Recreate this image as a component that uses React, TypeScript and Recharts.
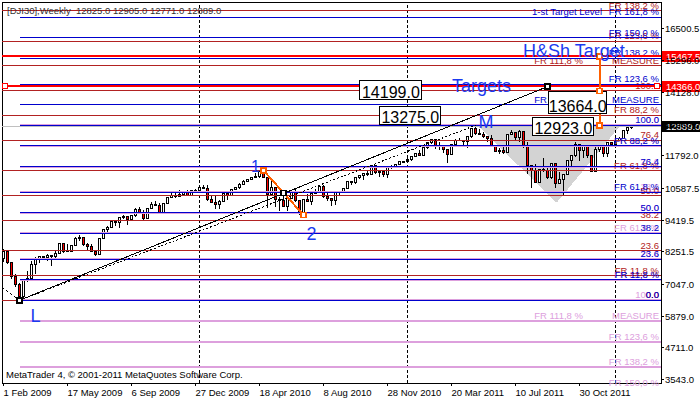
import React from 'react';
import {
  ComposedChart,
  XAxis,
  YAxis,
  Bar,
  Area,
  ReferenceLine,
  ReferenceDot,
  ReferenceArea,
} from 'recharts';

const FONT = '"Liberation Sans", Arial, sans-serif';
const SMALL = 9.5;
const ORANGE = '#FF6000';
const FIB_BLUE = '#0000CD';
const FIB_RED = '#B22222';
const FIB_PLUM = '#DDA0DD';
const TEXT_BLUE = '#1A3AF0';

// Weekly DJI30 bars [open, high, low, close]; bar 0 = week of 1 Feb 2009
const weeklyOHLC: number[][] = [
  [8000, 8350, 7890, 8280], [8280, 8300, 7800, 7850], [7850, 7880, 7250, 7366], [7366, 7450, 6950, 7063],
  [7063, 7100, 6470, 6627], [6627, 7250, 6547, 7224], [7224, 7540, 7150, 7279], [7279, 7930, 7270, 7776],
  [7776, 8080, 7450, 8018], [8018, 8100, 7840, 8083], [8083, 8120, 8030, 8060], [8060, 8170, 7920, 8131],
  [8131, 8140, 7750, 8076], [8076, 8270, 7950, 8212], [8212, 8600, 8200, 8575], [8575, 8590, 8200, 8268],
  [8268, 8540, 8250, 8277], [8277, 8520, 8250, 8500], [8500, 8800, 8490, 8764], [8764, 8880, 8660, 8799],
  [8799, 8810, 8470, 8540], [8540, 8570, 8300, 8438], [8438, 8560, 8270, 8280], [8280, 8300, 8090, 8147],
  [8147, 8780, 8140, 8743], [8743, 9100, 8740, 9093], [9093, 9200, 9000, 9172], [9172, 9380, 9160, 9370],
  [9370, 9400, 9200, 9321], [9321, 9540, 9120, 9506], [9506, 9630, 9470, 9544], [9544, 9550, 9250, 9441],
  [9441, 9620, 9430, 9605], [9605, 9880, 9560, 9820], [9820, 9920, 9640, 9666], [9666, 9800, 9430, 9488],
  [9488, 9880, 9480, 9865], [9865, 10100, 9850, 9996], [9996, 10120, 9940, 9972], [9972, 10070, 9670, 9713],
  [9713, 10050, 9680, 10023], [10023, 10290, 10010, 10270], [10270, 10430, 10260, 10318], [10318, 10460, 10230, 10310],
  [10310, 10520, 10280, 10389], [10389, 10480, 10340, 10471], [10471, 10520, 10300, 10329], [10329, 10530, 10320, 10520],
  [10520, 10580, 10420, 10428], [10428, 10620, 10420, 10618], [10618, 10730, 10570, 10610], [10610, 10730, 10140, 10172],
  [10172, 10300, 10050, 10067], [10067, 10300, 9840, 10012], [10012, 10170, 9830, 10099], [10099, 10420, 10090, 10402],
  [10402, 10420, 10160, 10325], [10325, 10580, 10320, 10567], [10567, 10630, 10530, 10625], [10625, 10780, 10590, 10742],
  [10742, 10900, 10720, 10850], [10850, 10930, 10840, 10927], [10927, 11000, 10900, 10997], [10997, 11150, 10990, 11019],
  [11019, 11210, 10980, 11204], [11204, 11258, 10990, 11009], [11009, 11020, 9870, 10380], [10380, 10900, 10370, 10620],
  [10620, 10650, 9920, 10193], [10193, 10280, 9770, 10137], [10137, 10330, 9920, 9932], [9932, 10220, 9760, 10212],
  [10212, 10480, 10190, 10450], [10450, 10590, 10100, 10144], [10144, 10150, 9614, 9686], [9686, 10200, 9680, 10198],
  [10198, 10400, 10090, 10097], [10097, 10440, 10000, 10425], [10425, 10570, 10400, 10466], [10466, 10720, 10460, 10653],
  [10653, 10720, 10260, 10303], [10303, 10450, 10150, 10213], [10213, 10240, 9940, 10150], [10150, 10450, 9990, 10448],
  [10448, 10480, 10330, 10462], [10462, 10620, 10450, 10607], [10607, 10870, 10590, 10860], [10860, 10880, 10730, 10829],
  [10829, 11020, 10750, 11006], [11006, 11100, 10960, 11063], [11063, 11170, 10920, 11133], [11133, 11250, 11060, 11118],
  [11118, 11450, 11090, 11445], [11445, 11450, 11140, 11193], [11193, 11250, 11000, 11204], [11204, 11210, 11010, 11092],
  [11092, 11400, 10970, 11382], [11382, 11450, 11330, 11410], [11410, 11500, 11390, 11492], [11492, 11580, 11470, 11573],
  [11573, 11590, 11520, 11578], [11578, 11740, 11570, 11675], [11675, 11790, 11620, 11787], [11787, 11880, 11760, 11871],
  [11871, 12000, 11800, 11824], [11824, 12100, 11820, 12092], [12092, 12280, 12050, 12273], [12273, 12400, 12220, 12391],
  [12391, 12400, 12050, 12130], [12130, 12290, 12010, 12169], [12169, 12200, 11920, 12044], [12044, 12050, 11550, 11858],
  [11858, 12240, 11850, 12221], [12221, 12420, 12190, 12376], [12376, 12450, 12330, 12380], [12380, 12390, 12200, 12342],
  [12342, 12510, 12090, 12505], [12505, 12820, 12460, 12811], [12811, 12923, 12570, 12638], [12638, 12780, 12560, 12596],
  [12596, 12660, 12450, 12512], [12512, 12520, 12300, 12441], [12441, 12570, 12130, 12151], [12151, 12160, 11940, 11952],
  [11952, 12100, 11860, 12004], [12004, 12190, 11870, 11934], [11934, 12600, 11930, 12582], [12582, 12750, 12550, 12657],
  [12657, 12660, 12400, 12479], [12479, 12750, 12300, 12681], [12681, 12690, 12090, 12143], [12143, 12300, 11140, 11445],
  [11445, 11450, 10600, 11269], [11269, 11500, 10800, 10818], [10818, 11300, 10800, 11285], [11285, 11720, 11200, 11240],
  [11240, 11380, 10950, 10992], [10992, 11520, 10930, 11509], [11509, 11550, 10600, 10771], [10771, 11190, 10760, 10913],
  [10913, 11120, 10362, 11103], [11103, 11650, 11100, 11644], [11644, 11810, 11350, 11808], [11808, 12290, 11770, 12231],
  [12231, 12240, 11600, 11983], [11983, 12200, 11720, 12153], [12153, 12160, 11730, 11796], [11796, 11800, 11230, 11231],
  [11231, 12130, 11230, 12019], [12019, 12200, 11950, 12184], [12184, 12190, 11740, 11867], [11867, 12300, 11760, 12294],
  [12294, 12320, 12200, 12218], [12218, 12480, 12210, 12360], [12360, 12490, 12330, 12422], [12422, 12730, 12410, 12720],
  [12720, 12840, 12620, 12825], [12825, 12905, 12771, 12889],
];

const X_MIN = -0.375;
const X_MAX = 164.375;
const Y_MIN = 3420;
const Y_MAX = 17471;

const xTickIdx = [0, 16, 32, 48, 64, 80, 96, 112, 128, 144];
const xTickLabels = [
  '1 Feb 2009', '17 May 2009', '6 Sep 2009', '27 Dec 2009', '18 Apr 2010',
  '8 Aug 2010', '28 Nov 2010', '20 Mar 2011', '10 Jul 2011', '30 Oct 2011',
];
const yTicks = [3543, 4711, 5879, 7047, 8251.5, 9419.5, 10587.5, 11792, 12960, 14128, 15296, 16500.5];
const yearSeparators = [49, 101, 153];

const lowL = 6470;
const neckM = 12923;
const high2007 = 14199;

const fibLevels = [0, 11.8, 23.6, 38.2, 50, 61.8, 76.4, 88.2, 100, 111.8, 123.6, 138.2, 150, 161.8];
const fibTexts = ['0.0', 'FR 11,8 %', '23.6', '38.2', '50.0', 'FR 61,8 %', '76.4', 'FR 88,2 %', '100.0',
  'MEASURE', 'FR 123,6 %', 'FR 138,2 %', 'FR 150,0 %', 'FR 161,8 %'];

const plumFib = { p0: neckM, p100: lowL, startK: 4, maxLevel: 150, color: FIB_PLUM, width: 2, target: '' };
const redFib = { p0: lowL, p100: high2007, startK: X_MIN, maxLevel: 138.2, color: FIB_RED, width: 1, target: '' };
const blueFib = { p0: lowL, p100: neckM, startK: 4, maxLevel: 161.8, color: FIB_BLUE, width: 1, target: '1-st Target Level' };

const targetLevels = [15467.5, 14366];
const bidPrice = 12889;

const trendSolid = [{ k: 4, price: lowL }, { k: 135.95, price: 14348 }];
const trendDotted = [{ k: 4, price: lowL }, { k: 118, price: neckM }];
const trendIn = [{ k: X_MIN, price: 6942 }, { k: 4, price: lowL }];
const swing12 = [{ k: 65, price: 11258 }, { k: 75, price: 9614 }];
const hsMeasure = [{ k: 149, price: 15467.5 }, { k: 149, price: neckM }];

const hsTriangle = [
  { k: 118.6, band: [12900, 12900] },
  { k: 138.3, band: [10070, 12900] },
  { k: 154.1, band: [12900, 12900] },
];

const handles = [
  { k: 4, price: lowL, color: '#000' },
  { k: 135.95, price: 14348, color: '#000' },
  { k: 65, price: 11258, color: ORANGE },
  { k: 70, price: 10436, color: '#000' },
  { k: 75, price: 9614, color: ORANGE },
  { k: 149, price: 15467.5, color: ORANGE },
  { k: 149, price: 14195, color: ORANGE },
  { k: 149, price: neckM, color: ORANGE },
  { k: 0.375, price: 14366, color: '#FF0000' },
  { k: 163.375, price: 14366, color: '#FF0000' },
];

const chartTexts = [
  { text: 'H&Sh Target', k: 129.9, price: 15432, size: 18, anchor: 'start' },
  { text: 'Targets', k: 112.1, price: 14163, size: 18, anchor: 'start' },
  { text: 'M', k: 120.6, price: 12824, size: 18, anchor: 'middle' },
  { text: '1', k: 63, price: 11202, size: 16, anchor: 'middle' },
  { text: '2', k: 77, price: 8694, size: 18, anchor: 'middle' },
  { text: 'L', k: 8, price: 5670, size: 18, anchor: 'middle' },
];

const labelBoxes = [
  { text: '14199.0', k: 96.85, price: 14226, w: 62, h: 19 },
  { text: '13275.0', k: 101.7, price: 13296, w: 61, h: 18 },
  { text: '13664.0', k: 143.55, price: 13783, w: 58, h: 22 },
  { text: '12923.0', k: 139.97, price: 12891, w: 61, h: 18 },
];

const css = `
body { margin: 0; }
.recharts-surface line, .recharts-surface rect, .recharts-surface path { shape-rendering: crispEdges; }
`;

function lineBox(vb: any) {
  if (!vb) return { right: 0, y: 0 };
  if (vb.x2 !== undefined) return { right: Math.max(vb.x1, vb.x2), y: vb.y1 };
  return { right: vb.x + (vb.width || 0), y: vb.y };
}

const makeFibLabel = (text: string, color: string, extra?: string, shift?: number) => (props: any) => {
  const { right, y } = lineBox(props.viewBox);
  return (
    <g>
      <text x={right - 2} y={y - 2} textAnchor="end" fill={color} fontSize={SMALL} fontFamily={FONT}>{text}</text>
      {extra ? (
        <text x={right - 2 - (shift || 0)} y={y - 2} textAnchor="end" fill={color} fontSize={SMALL} fontFamily={FONT}>{extra}</text>
      ) : null}
    </g>
  );
};

const makeAxisBox = (text: string, bg: string) => (props: any) => {
  const { right, y } = lineBox(props.viewBox);
  return (
    <g>
      <rect x={right + 1} y={y - 5.5} width={39} height={11} fill={bg} />
      <text x={right + 5} y={y + 3.5} fill="#fff" fontSize={SMALL} fontFamily={FONT}>{text}</text>
    </g>
  );
};

function fibElements(fib: any, prefix: string) {
  const out: any[] = [];
  fibLevels.forEach((lvl, i) => {
    if (lvl > fib.maxLevel) return;
    const v = fib.p0 + ((fib.p100 - fib.p0) * lvl) / 100;
    let extra: string | undefined;
    let shift = 0;
    if (lvl === 111.8) { extra = 'FR 111,8 %'; shift = 76; }
    if (lvl === 161.8 && fib.target) { extra = fib.target; shift = 57; }
    const labelFn = makeFibLabel(fibTexts[i], fib.color, extra, shift);
    if (v < Y_MIN) {
      out.push(
        <ReferenceDot key={`${prefix}-${i}`} x={X_MAX} y={v} ifOverflow="visible"
          shape={(p: any) => labelFn({ viewBox: { x: p.cx, y: p.cy, width: 0, height: 0 } })} />
      );
      return;
    }
    if (v > Y_MAX) return;
    out.push(
      <ReferenceLine key={`${prefix}-${i}`} segment={[{ x: fib.startK, y: v }, { x: X_MAX, y: v }]}
        stroke={fib.color} strokeWidth={fib.width} ifOverflow="visible" label={labelFn} />
    );
  });
  return out;
}

const CandleShape = (props: any) => {
  const { x, y, width, height, payload } = props;
  if (!payload || x == null) return null;
  const { o, h, l, c } = payload;
  const yTop = Math.min(y, y + height);
  const yBot = Math.max(y, y + height);
  const px = (v: number) => (h === l ? yTop : yTop + ((h - v) / (h - l)) * (yBot - yTop));
  const cx = Math.floor(x + width / 2) + 0.5;
  const yo = px(o);
  const yc = px(c);
  const bTop = Math.min(yo, yc);
  const bBot = Math.max(yo, yc);
  const bull = c >= o;
  return (
    <g>
      <line x1={cx} x2={cx} y1={yTop} y2={yBot} stroke="#000" strokeWidth={1} />
      <rect x={cx - 1} y={bTop} width={2} height={Math.max(bBot - bTop, 0.6)}
        fill={bull ? '#fff' : '#FF0000'} stroke="#000" strokeWidth={1} />
    </g>
  );
};

const XTick = (p: any) => {
  const i = xTickIdx.indexOf(p.payload.value);
  return (
    <text x={p.x} y={p.y + 9.5} textAnchor="start" fill="#000" fontSize={SMALL} fontFamily={FONT}>
      {i >= 0 ? xTickLabels[i] : ''}
    </text>
  );
};

const YTick = (p: any) => (
  <text x={p.x} y={p.y + 3.5} textAnchor="start" fill="#000" fontSize={SMALL} fontFamily={FONT}>
    {Number(p.payload.value).toFixed(1)}
  </text>
);

export default function App() {
  const candles = weeklyOHLC.map((r, k) => ({ k, o: r[0], h: r[1], l: r[2], c: r[3] }));

  return (
    <div style={{ position: 'relative', width: 700, height: 400, background: '#fff' }}>
      <style>{css}</style>
      <ComposedChart width={700} height={400} data={candles} margin={{ top: 2, right: 0, bottom: 0, left: 2 }}>
        <XAxis type="number" dataKey="k" domain={[X_MIN, X_MAX]} allowDataOverflow ticks={xTickIdx}
          interval={0} height={17} tickSize={3} tickMargin={0} tick={<XTick />}
          axisLine={{ stroke: '#000' }} tickLine={{ stroke: '#000' }} />
        <YAxis orientation="right" type="number" domain={[Y_MIN, Y_MAX]} allowDataOverflow ticks={yTicks}
          interval={0} width={39} tickSize={3} tickMargin={1} tick={<YTick />}
          axisLine={{ stroke: '#000' }} tickLine={{ stroke: '#000' }} />

        <ReferenceArea x1={X_MIN} x2={X_MAX} y1={Y_MIN} y2={Y_MAX} fill="none" stroke="#000" ifOverflow="visible" />

        <Area data={hsTriangle} dataKey="band" type="linear" stroke="none" fill="#D3D3D3" fillOpacity={1}
          isAnimationActive={false} dot={false} activeDot={false} />

        {yearSeparators.map((k) => (
          <ReferenceLine key={`sep-${k}`} x={k} stroke="#000" strokeDasharray="3 2" />
        ))}

        <ReferenceLine y={bidPrice} stroke="#C0C0C0" label={makeAxisBox('12889.0', '#000')} />

        {fibElements(plumFib, 'plum')}
        {fibElements(redFib, 'red')}
        {fibElements(blueFib, 'blue')}

        {targetLevels.map((v) => (
          <ReferenceLine key={`tgt-${v}`} y={v} stroke="#FF0000" strokeWidth={2}
            label={makeAxisBox(v.toFixed(1), '#FF0000')} />
        ))}

        <ReferenceLine segment={trendIn.map((p) => ({ x: p.k, y: p.price }))} stroke="#000" strokeDasharray="3 2" ifOverflow="visible" />
        <ReferenceLine segment={trendSolid.map((p) => ({ x: p.k, y: p.price }))} stroke="#000" ifOverflow="visible" />
        <ReferenceLine segment={trendDotted.map((p) => ({ x: p.k, y: p.price }))} stroke="#000" strokeDasharray="2 2" ifOverflow="visible" />
        <ReferenceLine segment={swing12.map((p) => ({ x: p.k, y: p.price }))} stroke={ORANGE} strokeWidth={2} ifOverflow="visible" />
        <ReferenceLine segment={hsMeasure.map((p) => ({ x: p.k, y: p.price }))} stroke={ORANGE} strokeWidth={2} ifOverflow="visible" />

        <Bar dataKey={(d: any) => [d.l, d.h]} barSize={3} shape={<CandleShape />} isAnimationActive={false} />

        {labelBoxes.map((b) => (
          <ReferenceDot key={`box-${b.text}`} x={b.k} y={b.price} ifOverflow="visible"
            shape={(p: any) => (
              <g>
                <rect x={p.cx - b.w / 2} y={p.cy - b.h / 2} width={b.w} height={b.h} fill="#fff" stroke="#000" />
                <text x={p.cx} y={p.cy + b.h / 2 - 1.5} textAnchor="middle" fill="#000" fontSize={16} fontFamily={FONT}>{b.text}</text>
              </g>
            )} />
        ))}

        {handles.map((hd, i) => (
          <ReferenceDot key={`h-${i}`} x={hd.k} y={hd.price} ifOverflow="visible"
            shape={(p: any) => (
              <rect x={p.cx - 2.5} y={p.cy - 2.5} width={5} height={5} fill="#fff" stroke={hd.color} strokeWidth={1.5} />
            )} />
        ))}

        {chartTexts.map((t) => (
          <ReferenceDot key={`t-${t.text}`} x={t.k} y={t.price} ifOverflow="visible"
            shape={(p: any) => (
              <text x={p.cx} y={p.cy} textAnchor={t.anchor as any} fill={TEXT_BLUE} fontSize={t.size} fontFamily={FONT}>{t.text}</text>
            )} />
        ))}
      </ComposedChart>
      <svg width={700} height={400} style={{ position: 'absolute', left: 0, top: 0, pointerEvents: 'none' }}>
        <text x={7} y={14} fill="#333" fontSize={SMALL} fontFamily={FONT} style={{ whiteSpace: 'pre' }}>
          {'[DJI30],Weekly  12825.0 12905.0 12771.0 12889.0'}
        </text>
        <text x={6} y={378} fill="#000" fontSize={SMALL} fontFamily={FONT}>
          {'MetaTrader 4, \u00A9 2001-2011 MetaQuotes Software Corp.'}
        </text>
      </svg>
    </div>
  );
}
